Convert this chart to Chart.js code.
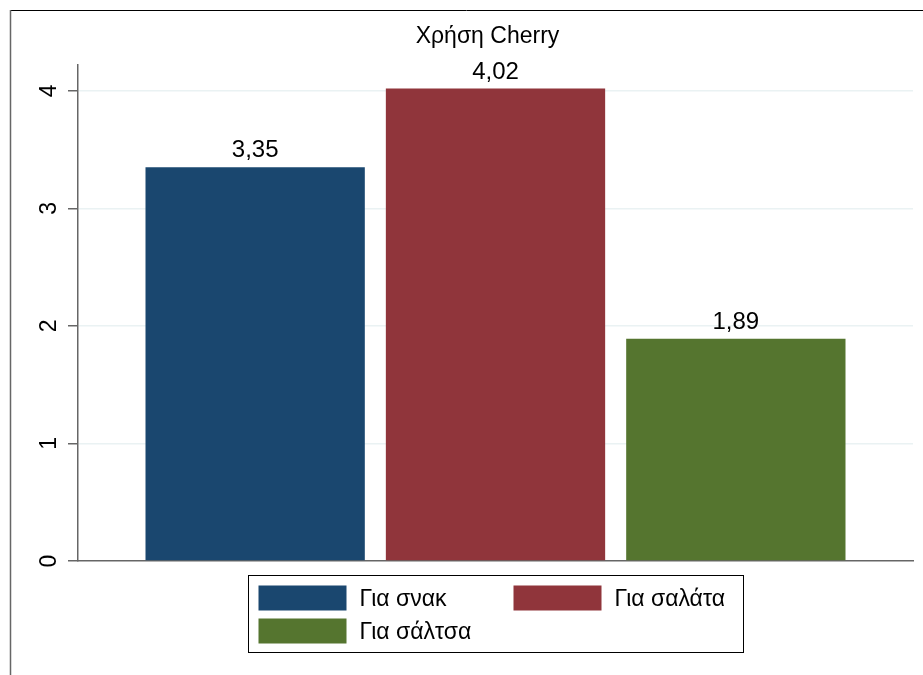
<!DOCTYPE html>
<html>
<head>
<meta charset="utf-8">
<script src="https://cdn.jsdelivr.net/npm/chart.js@4.4.1/dist/chart.umd.min.js"></script>
<style>
  html, body { margin: 0; padding: 0; background: #fff; }
  #wrap { width: 923px; height: 675px; }
</style>
</head>
<body>
<div id="wrap"><canvas id="chart" width="923" height="675"></canvas></div>
<script>
// data
const chartTitle = "Χρήση Cherry";
const categories = [""];
const seriesNames = ["Για σνακ", "Για σαλάτα", "Για σάλτσα"];
const snackValues = [3.35];
const saladValues = [4.02];
const sauceValues = [1.89];
const yTickValues = [0, 1, 2, 3, 4];
const yMax = 4.22;

const colors = ["#1a476f", "#90353b", "#55752f"];
const FONT = '"Liberation Sans", Arial, sans-serif';

const fmt = v => v.toFixed(2).replace(".", ",");

// outer frame lines + white bg
const framePlugin = {
  id: "frame",
  beforeDraw(chart) {
    const ctx = chart.ctx;
    ctx.save();
    ctx.fillStyle = "#fff";
    ctx.fillRect(0, 0, chart.width, chart.height);
    ctx.lineWidth = 1;
    ctx.strokeStyle = "#000";
    ctx.beginPath();
    ctx.moveTo(10, 10.5);
    ctx.lineTo(chart.width, 10.5);
    ctx.stroke();
    ctx.strokeStyle = "#666";
    ctx.lineWidth = 1.5;
    ctx.beginPath();
    ctx.moveTo(10.5, 10);
    ctx.lineTo(10.5, chart.height);
    ctx.stroke();
    ctx.restore();
  }
};

// title + value labels + boxed legend
const textPlugin = {
  id: "texts",
  afterDatasetsDraw(chart) {
    const ctx = chart.ctx;
    ctx.save();
    ctx.fillStyle = "#000";
    ctx.font = "24px " + FONT;
    ctx.textAlign = "center";
    ctx.textBaseline = "alphabetic";
    chart.data.datasets.forEach((ds, i) => {
      const meta = chart.getDatasetMeta(i);
      meta.data.forEach((bar, j) => {
        ctx.fillText(fmt(ds.data[j]), bar.x, bar.y - 10);
      });
    });
    ctx.restore();
  },
  afterDraw(chart) {
    const ctx = chart.ctx;
    const area = chart.chartArea;
    const cx = (area.left + area.right) / 2;
    ctx.save();
    // title
    ctx.fillStyle = "#000";
    ctx.font = "23px " + FONT;
    ctx.textAlign = "center";
    ctx.textBaseline = "alphabetic";
    ctx.fillText(chartTitle, cx - 8, 43);

    // legend
    const boxW = 495, boxH = 77;
    const bx = Math.round(cx - boxW / 2) + 0.5;
    const by = area.bottom + 14.5;
    ctx.strokeStyle = "#000";
    ctx.lineWidth = 1;
    ctx.strokeRect(bx, by, boxW, boxH);
    ctx.font = "23px " + FONT;
    ctx.textAlign = "left";
    ctx.textBaseline = "middle";
    chart.data.datasets.forEach((ds, i) => {
      const col = i % 2, row = Math.floor(i / 2);
      const sx = bx + 10 + col * 255;
      const sy = by + 10 + row * 33;
      ctx.fillStyle = ds.backgroundColor;
      ctx.fillRect(sx, sy, 88, 25);
      ctx.fillStyle = "#000";
      ctx.fillText(ds.label, sx + 101, sy + 14);
    });
    ctx.restore();
  }
};

const datasets = [snackValues, saladValues, sauceValues].map((vals, i) => ({
  label: seriesNames[i],
  data: vals,
  backgroundColor: colors[i],
  borderWidth: 0,
  barPercentage: 0.9125,
  categoryPercentage: 0.8635
}));

new Chart(document.getElementById("chart"), {
  type: "bar",
  data: { labels: categories, datasets },
  options: {
    responsive: false,
    animation: false,
    events: [],
    layout: { padding: { top: 65, bottom: 114, left: 0, right: 10 } },
    plugins: {
      legend: { display: false },
      title: { display: false },
      tooltip: { enabled: false }
    },
    scales: {
      x: {
        type: "category",
        offset: true,
        grid: { display: false, drawTicks: false },
        border: { color: "#666", width: 1.5 },
        ticks: { display: false },
        afterFit(scale) { scale.height = 0; }
      },
      y: {
        min: 0,
        max: yMax,
        afterBuildTicks(scale) {
          scale.ticks = yTickValues.map(v => ({ value: v }));
        },
        ticks: {
          stepSize: 1,
          includeBounds: false,
          minRotation: 90,
          maxRotation: 90,
          crossAlign: "center",
          padding: 12,
          color: "#000",
          font: { family: FONT, size: 23 }
        },
        grid: {
          color: c => (c.tick && c.tick.value === 0 ? "rgba(0,0,0,0)" : "#eaf2f3"),
          lineWidth: 1.5,
          tickColor: "#666",
          tickLength: 10
        },
        border: { color: "#666", width: 1.5 },
        afterFit(scale) { scale.width = 78; }
      }
    }
  },
  plugins: [framePlugin, textPlugin]
});
</script>
</body>
</html>
